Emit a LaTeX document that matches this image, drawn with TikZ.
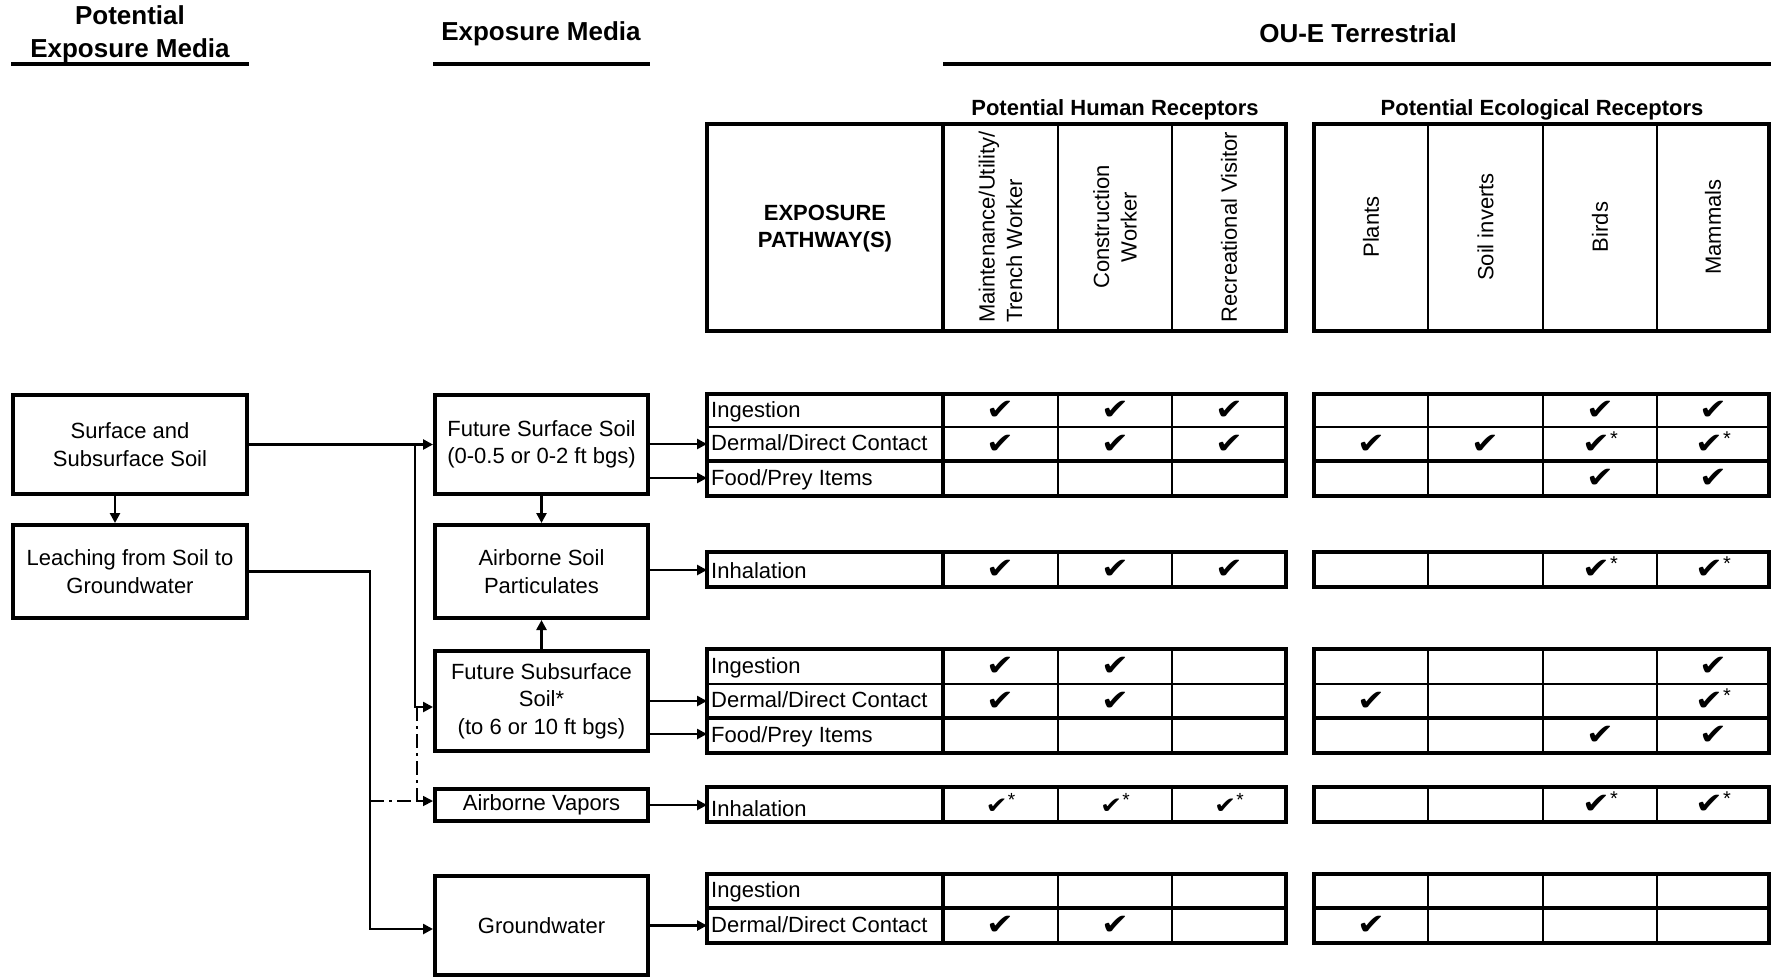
\documentclass[tikz,border=0pt]{standalone}
\usepackage{fontspec}
\setmainfont{Liberation Sans}
\newfontfamily\dejavu{DejaVu Sans}
\usetikzlibrary{arrows.meta,calc}

\newcommand\fs{\fontsize{22}{27.5}\selectfont}
\newcommand\fb{\fontsize{26}{33}\selectfont\bfseries}
\newcommand\fh{\fontsize{22}{27}\selectfont\bfseries}
\newcommand\ck{\scalebox{1.15}[1]{\dejavu\fontsize{29}{29}\selectfont ✔}}
\newcommand\cks{\ck\raisebox{8pt}{\fontsize{20}{20}\selectfont *}}
\newcommand\ckm{\scalebox{1.15}[1]{\dejavu\fontsize{23}{23}\selectfont ✔}\raisebox{7pt}{\fontsize{19}{19}\selectfont *}}

% one band of the two tables: top, bottom, thin separators, medium separators
\newcommand\tgroup[4]{%
  \foreach \xa/\xb in {707/1286,1314/1769}{%
    \foreach \yy in {#3} \draw[innerln] (\xa,\yy) -- (\xb,\yy);
    \foreach \yy in {#4} \draw[midln] (\xa,\yy) -- (\xb,\yy);
  }
  \foreach \xx in {1058,1172,1428,1543,1657} \draw[innerln] (\xx,#1) -- (\xx,#2);
  \draw[outerln] (943,#1) -- (943,#2);
  \draw[outerln] (707,#1) rectangle (1286,#2);
  \draw[outerln] (1314,#1) rectangle (1769,#2);
}

\begin{document}
\begin{tikzpicture}[x=1pt,y=-1pt,
  box/.style={draw, line width=4pt, align=center, font=\fs, inner sep=0pt},
  conn/.style={line width=2.7pt, -{Triangle[length=10pt,width=10pt]}},
  ddash/.style={line width=1.7pt, dash pattern=on 14pt off 5pt on 3pt off 5pt},
  outerln/.style={line width=4pt},
  midln/.style={line width=3.2pt},
  innerln/.style={line width=2.4pt},
  uline/.style={line width=4.5pt},
  lbl/.style={font=\fs, anchor=base west, inner sep=0pt},
  chk/.style={inner sep=0pt, anchor=base},
  hdr/.style={font=\fs, align=center, rotate=90, inner sep=0pt}]
\useasboundingbox (0,0) rectangle (1771,978);

% ---- titles
\node[font=\fb, align=center] (tpem) at (130,34.5) {Potential\\Exposure Media};
\node[font=\fb] (tem) at (541,34) {Exposure Media};
\node[font=\fb] (tou) at (1358,33) {OU-E Terrestrial};
\draw[uline] (11,64) -- (249,64);
\draw[uline] (433,64) -- (650,64);
\draw[uline] (943,64) -- (1771,64);
\node[font=\fh] (thr) at (1115,110) {Potential Human Receptors};
\node[font=\fh] (ter) at (1542,110) {Potential Ecological Receptors};

% ---- header table
\foreach \xx in {1058,1172,1428,1543,1657} \draw[innerln] (\xx,124) -- (\xx,331);
\draw[outerln] (943,124) -- (943,331);
\draw[outerln] (707,124) rectangle (1286,331);
\draw[outerln] (1314,124) rectangle (1769,331);
\node[font=\fh, align=center] (ephdr) at (825,229) {EXPOSURE\\PATHWAY(S)};
\node[hdr, align=left] (hmaint) at (1000.5,227) {Maintenance/Utility/\\Trench Worker};
\node[hdr] (hcons) at (1115,227) {Construction\\Worker};
\node[hdr] (hrec) at (1229,227) {Recreational Visitor};
\node[hdr] (eplant) at (1371,227) {Plants};
\node[hdr] (esoil) at (1485.5,227) {Soil inverts};
\node[hdr] (ebird) at (1600,227) {Birds};
\node[hdr] (emamm) at (1713,227) {Mammals};

% ---- pathway tables
\tgroup{394}{496}{427}{461}
\tgroup{552}{587}{552}{552}
\tgroup{649}{753}{684}{718}
\tgroup{787}{822}{787}{787}
\tgroup{874}{943}{908}{908}

\node[lbl] (p1) at (711,417) {Ingestion};
\node[lbl] (p2) at (711,450) {Dermal/Direct Contact};
\node[lbl] (p3) at (711,485) {Food/Prey Items};
\node[lbl] (p4) at (711,578) {Inhalation};
\node[lbl] (p5) at (711,673) {Ingestion};
\node[lbl] (p6) at (711,707) {Dermal/Direct Contact};
\node[lbl] (p7) at (711,742) {Food/Prey Items};
\node[lbl] (p8) at (711,816) {Inhalation};
\node[lbl] (p9) at (711,897) {Ingestion};
\node[lbl] (p10) at (711,932) {Dermal/Direct Contact};

\foreach \x/\y/\m [count=\n] in {
  1000.5/410.5/\ck, 1115/410.5/\ck, 1229/410.5/\ck, 1600/410.5/\ck, 1713/410.5/\ck,
  1000.5/444/\ck, 1115/444/\ck, 1229/444/\ck, 1371/444/\ck, 1485.5/444/\ck, 1600/444/\cks, 1713/444/\cks,
  1600/478.5/\ck, 1713/478.5/\ck,
  1000.5/569.5/\ck, 1115/569.5/\ck, 1229/569.5/\ck, 1600/569.5/\cks, 1713/569.5/\cks,
  1000.5/666.5/\ck, 1115/666.5/\ck, 1713/666.5/\ck,
  1000.5/701/\ck, 1115/701/\ck, 1371/701/\ck, 1713/701/\cks,
  1600/735.5/\ck, 1713/735.5/\ck,
  1000.5/804.5/\ckm, 1115/804.5/\ckm, 1229/804.5/\ckm, 1600/804.5/\cks, 1713/804.5/\cks,
  1000.5/925.5/\ck, 1115/925.5/\ck, 1371/925.5/\ck}
  \node[chk] (ck\n) at (\x,\y+9) {\m};

% ---- media boxes
\node[box, minimum width=234pt, minimum height=99pt] (surf) at (130,444.5) {Surface and\\Subsurface Soil};
\node[box, minimum width=234pt, minimum height=93pt] (leach) at (130,571.5) {Leaching from Soil to\\Groundwater};
\node[box, minimum width=213pt, minimum height=99pt] (futsurf) at (541.5,444.5) {Future Surface Soil\\(0-0.5 or 0-2 ft bgs)};
\node[box, minimum width=213pt, minimum height=93pt] (airsoil) at (541.5,571.5) {Airborne Soil\\Particulates};
\node[box, minimum width=213pt, minimum height=100pt] (futsub) at (541.5,701) {Future Subsurface\\Soil*\\(to 6 or 10 ft bgs)};
\node[box, minimum width=213pt, minimum height=32pt] (airvap) at (541.5,805) {Airborne Vapors};
\node[box, minimum width=213pt, minimum height=99pt] (gw) at (541.5,925.5) {Groundwater};

% ---- connector points
\coordinate (vx) at (115,0);
\coordinate (j1) at (415,444.5);
\coordinate (j2) at (417,707);
\coordinate (j3) at (417,801);
\coordinate (j4) at (370,801);
\coordinate (lx) at (370,929);
\coordinate (t1d) at (707,444);
\coordinate (t1f) at (707,478);
\coordinate (t2i) at (707,570);
\coordinate (t3d) at (707,701);
\coordinate (t3f) at (707,734);
\coordinate (t4i) at (707,805);
\coordinate (t5d) at (707,925.5);

% ---- connectors
\draw[conn] (surf) -- (futsurf);
\draw[conn] (surf.south -| vx) -- (leach.north -| vx);
\draw[conn] (j1) |- ($(futsub.west)+(0,6)$);
\draw[conn] (futsurf) -- (airsoil);
\draw[conn] (futsub) -- (airsoil);
\draw[conn] (leach.east) -| (lx) -- ($(gw.west)+(0,3.5)$);
\draw[ddash] (j2) -- (j3);
\draw[ddash] (j4) -- (j3);
\draw[ddash, -{Triangle[length=10pt,width=10pt]}] (j3) -- ($(airvap.west)+(0,-4)$);

\draw[conn] (futsurf.east |- t1d) -- (t1d);
\draw[conn] (futsurf.east |- t1f) -- (t1f);
\draw[conn] (airsoil.east |- t2i) -- (t2i);
\draw[conn] (futsub.east |- t3d) -- (t3d);
\draw[conn] (futsub.east |- t3f) -- (t3f);
\draw[conn] (airvap.east |- t4i) -- (t4i);
\draw[conn] (gw.east |- t5d) -- (t5d);
\end{tikzpicture}
\end{document}
